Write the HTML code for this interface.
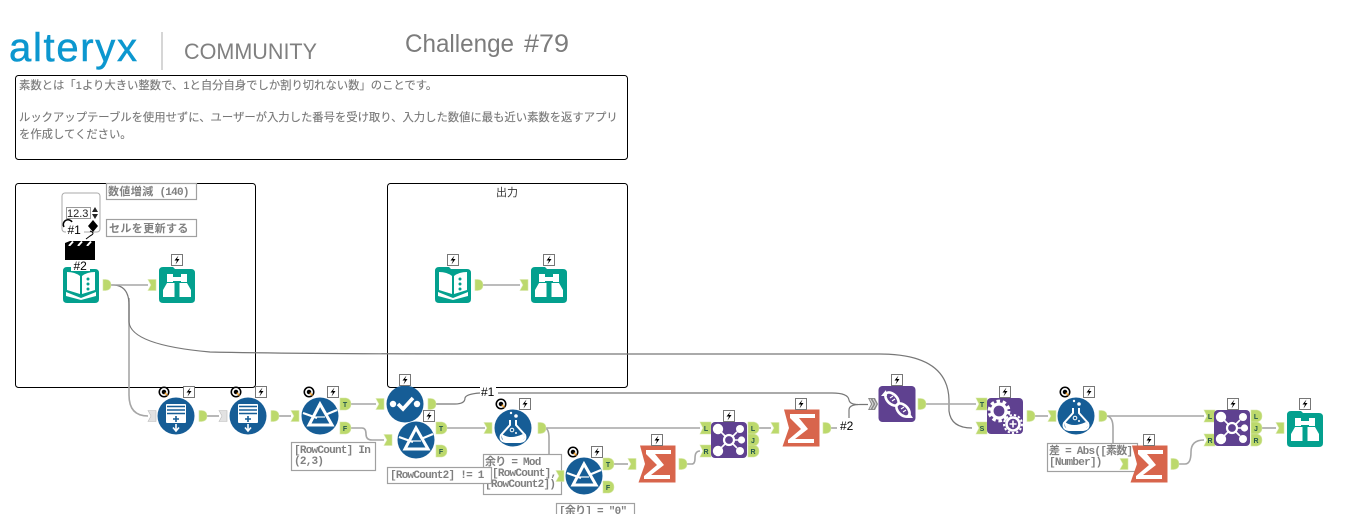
<!DOCTYPE html>
<html lang="ja"><head><meta charset="utf-8"><title>Challenge #79</title>
<style>
html,body{margin:0;padding:0;background:#fff;width:1366px;height:514px;overflow:hidden}
svg{display:block}
.b{fill:none;stroke:#000;stroke-width:1}
.c{fill:none;stroke:#a6a6a6;stroke-width:1.6}
.d{fill:none;stroke:#777;stroke-width:1.2}
.t{font:11.33px "Liberation Sans","Noto Sans CJK JP",sans-serif;fill:#777;stroke:#777;stroke-width:.12}
.l{font:bold 11px "Liberation Mono","Noto Sans CJK JP",monospace;fill:#808080;letter-spacing:-.75px}
.j{letter-spacing:.4px}
.r{fill:#fff;stroke:#a0a0a0;stroke-width:1.2}
.a{font:bold 7px "Liberation Sans",sans-serif;fill:#24584c;text-anchor:middle}
.n{font:12px "Liberation Sans",sans-serif;fill:#000}
</style></head><body>
<svg width="1366" height="514" viewBox="0 0 1366 514" xmlns="http://www.w3.org/2000/svg">
<defs>
<symbol id="i" overflow="visible"><path d="M0-5.500H8V5.500H0L3 0Z" fill="#bcd96c" stroke="#d5e6a5" stroke-width=".6"/></symbol>
<symbol id="ig" overflow="visible"><path d="M0-5.500H8V5.500H0L3 0Z" fill="#e2e2e2" stroke="#bbb" stroke-width=".6"/></symbol>
<symbol id="o" overflow="visible"><path d="M0-5.500H3Q8-5 8 0Q8 5 3 5.500H0Z" fill="#bcd96c" stroke="#d5e6a5" stroke-width=".6"/></symbol>
<symbol id="iw" overflow="visible"><path d="M0-6H11V6H0L3 0Z" fill="#bcd96c" stroke="#d5e6a5" stroke-width=".6"/></symbol>
<symbol id="ow" overflow="visible"><path d="M0-6H6Q11-5 11 0Q11 5 6 6H0Z" fill="#bcd96c" stroke="#d5e6a5" stroke-width=".6"/></symbol>
<symbol id="z" overflow="visible"><rect x="-5.500" y="-5.500" width="11" height="11" fill="#fff" stroke="#777"/><path d="M1.500-4.500L-2.500 .5H0L-1.500 4.500L2.500-1H0Z" fill="#000"/></symbol>
<symbol id="qb" overflow="visible"><circle r="5.500" fill="#000"/><circle r="3.100" fill="none" stroke="#fff" stroke-width="1.700"/><path d="M.8 .8L3.500 3.500" stroke="#f0a030" stroke-width="1.400"/></symbol>
<symbol id="ap" overflow="visible"><circle r="18.500" fill="#165d96"/><rect x="-10" y="-12" width="20" height="19" rx="1" fill="#fff"/><path d="M-9-9.500H9M-9-6H9M-9-2.500H9" stroke="#165d96" stroke-width="1.400"/><path d="M0 0V6M-3 3H3" stroke="#165d96" stroke-width="1.600"/><path d="M0 8V15M-3 11.500L0 15L3 11.500" stroke="#fff" stroke-width="1.600" fill="none"/></symbol>
<symbol id="fl" overflow="visible"><circle r="18.500" fill="#165d96"/><path d="M0-12L-11 9H12Z" fill="none" stroke="#fff" stroke-width="3"/><path d="M-17-3L-3 2M5-1L17-6" stroke="#fff" stroke-width="2.200"/><path d="M-4 1H5" stroke="#fff" stroke-width="1.200"/></symbol>
<symbol id="ck" overflow="visible"><circle r="18.500" fill="#165d96"/><circle cx="-12" cy="0" r="3.200" fill="#fff"/><circle cx="12" cy="0" r="3.200" fill="#fff"/><path d="M-7 0L-2 5L8-6" fill="none" stroke="#fff" stroke-width="3.600"/></symbol>
<symbol id="fx" overflow="visible"><circle r="18.500" fill="#165d96"/><circle cx="-2" cy="-15" r="1.200" fill="#fff"/><circle cx="3" cy="-12" r="1.800" fill="#fff"/><path d="M-3-8V-3L-12 7Q-14 13-7 14H7Q14 13 12 7L3-3V-8" fill="none" stroke="#fff" stroke-width="2"/><path d="M-11 6Q-3 12 10 6L12 9Q10 14 6 14H-6Q-12 13-11 6Z" fill="#fff"/><circle cx="-1" cy="2" r="1.800" fill="none" stroke="#fff"/><circle cx="3" cy="5" r="1" fill="#fff"/></symbol>
<symbol id="su" overflow="visible"><path d="M-17-18.500H18.500V18.500H-18.500L-12 0Z" fill="#d8654c"/><path d="M-11-14H14V-10H-2L7 1L-6 11H13V15H-13V12L0 1L-11-10Z" fill="#fff"/></symbol>
<symbol id="jn" overflow="visible"><rect x="-18" y="-18" width="36" height="36" rx="4" fill="#5f4190"/><g fill="#fff"><circle cx="-11" cy="-11" r="5.200"/><circle cx="11" cy="-11" r="4"/><circle cx="12.500" cy="0" r="3.600"/><circle cx="11" cy="11" r="4"/><circle cx="-11" cy="11" r="5.200"/></g><circle r="5" fill="none" stroke="#fff" stroke-width="2.200"/><path d="M-8-8L-3-3M8-8L3-3M5 0H10M8 8L3 3M-8 8L-3 3" stroke="#fff" stroke-width="1.600"/></symbol>
<symbol id="dn" overflow="visible"><rect x="-18.500" y="-18" width="37" height="36" rx="4" fill="#5f4190"/><g fill="none" stroke="#fff" stroke-width="2.600"><ellipse cx="-5" cy="-5" rx="8" ry="4.800" transform="rotate(45 -5 -5)"/><ellipse cx="6" cy="6" rx="8" ry="4.800" transform="rotate(45 6 6)"/></g><path d="M-7-6L-4-8M-5-3L-2-5M4 5L7 3M6 8L9 6" stroke="#fff" stroke-width="1.200"/><path d="M-11-14L-16-8L-10-8ZM12 8L16 14L9 14Z" fill="#fff"/></symbol>
<symbol id="ge" overflow="visible"><rect x="-18" y="-18" width="36" height="36" rx="4" fill="#5f4190"/><circle cx="-6" cy="-5" r="7" fill="none" stroke="#fff" stroke-width="3.200"/><circle cx="-6" cy="-5" r="9.800" fill="none" stroke="#fff" stroke-width="3.200" stroke-dasharray="3.500 2.700"/><circle cx="8" cy="8" r="6.500" fill="#5f4190" stroke="#fff" stroke-width="2.600"/><circle cx="8" cy="8" r="9" fill="none" stroke="#fff" stroke-width="2" stroke-dasharray="2.300 2"/><path d="M4.500 8H11.500M8 4.500V11.500" stroke="#fff" stroke-width="1.600"/></symbol>
<symbol id="br" overflow="visible"><path d="M-18-14Q-18-18-14-18H-4L-2-16H14Q18-16 18-12V14Q18 18 14 18H-14Q-18 18-18 14Z" fill="#03a08e"/><path d="M-10-11H-4V-3H-10ZM4-11H10V-3H4ZM-4-8H4V-4H-4ZM-10-2H-2.500V12H-14V5ZM10-2H2.500V12H14V5Z" fill="#fff"/></symbol>
<symbol id="bk" overflow="visible"><path d="M-18-14Q-18-18-14-18H-4L-2-16H14Q18-16 18-12V14Q18 18 14 18H-14Q-18 18-18 14Z" fill="#03a08e"/><path d="M-14-13Q-6-13-1-9V9L-14 5Z" fill="#fff"/><path d="M14-13Q6-13 1-9V9L14 5Z" fill="#fff"/><path d="M-15 7L0 13L15 7V11L0 15L-15 11Z" fill="#fff"/><g fill="#03a08e"><circle cx="7" cy="-6" r="1.500"/><circle cx="7" cy="-1" r="1.500"/><circle cx="7" cy="4" r="1.500"/></g></symbol>
</defs>

<!-- header -->
<text x="9" y="61" font-family="Liberation Sans" font-size="40" fill="#0c97cf" stroke="#0c97cf" stroke-width=".5" textLength="128">alteryx</text>
<rect x="161" y="32" width="2" height="38" fill="#d6d6d6"/>
<text x="184" y="59" font-family="Liberation Sans" font-size="22" fill="#808080" textLength="133" lengthAdjust="spacingAndGlyphs">COMMUNITY</text>
<text x="405" y="52" font-family="Liberation Sans" font-size="25" fill="#7c7c7c" textLength="109" lengthAdjust="spacingAndGlyphs">Challenge</text>
<text x="524" y="52" font-family="Liberation Sans" font-size="25" fill="#7c7c7c" textLength="45" lengthAdjust="spacingAndGlyphs">#79</text>

<!-- comment boxes -->
<rect class="b" x="15.500" y="75.500" width="612" height="84" rx="3"/>
<text class="t" x="19" y="89">素数とは「1より大きい整数で、1と自分自身でしか割り切れない数」のことです。</text>
<text class="t" x="19" y="121">ルックアップテーブルを使用せずに、ユーザーが入力した番号を受け取り、入力した数値に最も近い素数を返すアプリ</text>
<text class="t" x="19" y="138">を作成してください。</text>
<rect class="b" x="15.500" y="183.500" width="240" height="204" rx="3"/>
<rect class="b" x="387.500" y="183.500" width="240" height="204" rx="3"/>
<text x="507" y="196" font-family="Liberation Sans,Noto Sans CJK JP,sans-serif" font-size="11" fill="#333" text-anchor="middle">出力</text>

<!-- connectors -->
<path class="c" d="M129 298V395Q129 416 148 416"/>
<path class="d" d="M110 285H114Q129 286 129 305V322Q131 345 210 352Q300 354 500 354H880Q948 354 949 400V411Q951 428 972 428"/>
<path class="c" d="M110 285H148"/>
<path class="c" d="M482 285H520"/>
<path class="c" d="M206 416H219"/>
<path class="c" d="M278 416H291"/>
<path class="c" d="M351 404H376"/>
<path class="c" d="M351 428H362Q366 428 366 434Q366 440 372 440H384"/>
<path class="d" d="M434 404H455Q465 404 465 398Q466 394 480 393"/>
<path class="d" d="M498 393H832Q848 393 849 400Q850 405 860 404.500H868"/>
<path class="d" d="M849 418V410Q849 405 858 404.500"/>
<path class="c" d="M447 428H485"/>
<path class="c" d="M545 428H700"/>
<path class="c" d="M545 428Q549 429 549 438V465Q549 476 557 476"/>
<path class="c" d="M614 464H628"/>
<path class="c" d="M687 464H692Q695 464 695 458Q695 451 700 451"/>
<path class="c" d="M759 428H771"/>
<path class="c" d="M831 428H837"/>
<path class="c" d="M926 404H976"/>
<path class="c" d="M1035 416H1048"/>
<path class="c" d="M1107 416H1204"/>
<path class="c" d="M1107 416Q1113 417 1113 428V455Q1113 464 1120 464"/>
<path class="c" d="M1179 464H1185Q1191 464 1191 452Q1191 440 1204 440"/>
<path class="c" d="M1262 428H1276"/>

<!-- labels under tools -->
<rect class="r" x="106.500" y="183.500" width="90" height="16"/>
<text class="l" x="108" y="195"><tspan class="j">数値増減</tspan> (140)</text>
<rect class="r" x="106.500" y="219.500" width="90" height="17"/>
<text class="l j" x="109" y="232">セルを更新する</text>
<rect class="r" x="291.500" y="442.500" width="84" height="28"/>
<text class="l" x="294" y="453">[RowCount] In</text>
<text class="l" x="294" y="464">(2,3)</text>
<rect class="r" x="483.500" y="454.500" width="78" height="40"/>
<text class="l" x="485" y="465">余り = Mod</text>
<text class="l" x="492" y="476">[RowCount],</text>
<text class="l" x="485" y="487">[RowCount2])</text>
<rect class="r" x="387.500" y="467.500" width="104" height="16"/>
<text class="l" x="390" y="478">[RowCount2] != 1</text>
<rect class="r" x="556.500" y="503.500" width="78" height="20"/>
<text class="l" x="559" y="514">[余り] = "0"</text>
<rect class="r" x="1047.500" y="443.500" width="90" height="28"/>
<text class="l" x="1049" y="454">差 = Abs([素数]</text>
<text class="l" x="1049" y="465">[Number])</text>

<!-- interface tools -->
<rect x="62" y="193" width="38" height="39" rx="3" fill="#fff" stroke="#aaa"/>
<rect x="66.500" y="207.500" width="24" height="11" fill="#fff" stroke="#999"/>
<text x="67" y="217" font-family="Liberation Sans" font-size="11" fill="#222">12.3</text>
<path d="M92 212L95 207L98 212ZM92 214H98L95 219Z" fill="#222"/>
<path d="M93 220L98 226L93 232L88 226Z" fill="#000"/>
<path d="M64 227A4 4 0 0 1 72 222" fill="none" stroke="#000" stroke-width="1.500"/>
<path d="M90 231Q96 233 90 236L86 239" fill="none" stroke="#000" stroke-width="1"/>
<rect x="66" y="224" width="18" height="13" fill="#fff"/>
<text class="n" x="67.500" y="234">#1</text>
<path d="M65 243L70 241H95V247H65Z" fill="#000"/>
<path d="M69 246L73 241.500M78 246L82 241.500M87 246L91 241.500" stroke="#fff" stroke-width="2"/>
<rect x="65" y="246" width="30" height="14" fill="#000"/>

<!-- anchors -->
<use href="#o" x="103" y="285"/><use href="#i" x="148" y="285"/>
<use href="#o" x="475" y="285"/><use href="#i" x="520" y="285"/>
<use href="#ig" x="148" y="416"/><use href="#o" x="199" y="416"/>
<use href="#ig" x="219" y="416"/><use href="#o" x="271" y="416"/>
<use href="#i" x="291" y="416"/>
<use href="#ow" x="340" y="404"/><text class="a" x="345" y="407">T</text>
<use href="#ow" x="340" y="428"/><text class="a" x="345" y="431">F</text>
<use href="#i" x="376" y="404"/><use href="#o" x="428" y="404"/>
<use href="#i" x="384" y="440"/>
<use href="#ow" x="436" y="428"/><text class="a" x="441" y="431">T</text>
<use href="#ow" x="436" y="451"/><text class="a" x="441" y="454">F</text>
<use href="#i" x="484" y="428"/><use href="#o" x="538" y="428"/>
<use href="#i" x="556" y="476"/>
<use href="#ow" x="603" y="464"/><text class="a" x="608" y="467">T</text>
<use href="#ow" x="603" y="487"/><text class="a" x="608" y="490">F</text>
<use href="#i" x="628" y="464"/><use href="#o" x="679" y="464"/>
<use href="#iw" x="700" y="428"/><text class="a" x="706" y="431">L</text>
<use href="#iw" x="700" y="451"/><text class="a" x="706" y="454">R</text>
<use href="#ow" x="748" y="428"/><text class="a" x="753" y="431">L</text>
<use href="#ow" x="748" y="440"/><text class="a" x="753" y="443">J</text>
<use href="#ow" x="748" y="451"/><text class="a" x="753" y="454">R</text>
<use href="#i" x="771" y="428"/><use href="#o" x="823" y="428"/>
<path d="M868 398H875L878 404L875 410H868L871 404Z" fill="#8a8a8a"/><path d="M870 399L873 404L870 409M873 399L876 404L873 409" fill="none" stroke="#ddd"/>
<use href="#o" x="918" y="404"/>
<use href="#iw" x="976" y="404"/><text class="a" x="982" y="407">T</text>
<use href="#iw" x="976" y="428"/><text class="a" x="982" y="431">S</text>
<use href="#o" x="1027" y="416"/>
<use href="#i" x="1048" y="416"/><use href="#o" x="1099" y="416"/>
<use href="#i" x="1120" y="464"/><use href="#o" x="1171" y="464"/>
<use href="#iw" x="1204" y="416"/><text class="a" x="1210" y="419">L</text>
<use href="#iw" x="1204" y="440"/><text class="a" x="1210" y="443">R</text>
<use href="#ow" x="1251" y="416"/><text class="a" x="1256" y="419">L</text>
<use href="#ow" x="1251" y="428"/><text class="a" x="1256" y="431">J</text>
<use href="#ow" x="1251" y="440"/><text class="a" x="1256" y="443">R</text>
<use href="#i" x="1276" y="428"/>

<!-- tools -->
<use href="#bk" x="81" y="285"/><use href="#br" x="177" y="285"/>
<use href="#bk" x="453" y="285"/><use href="#br" x="549" y="285"/>
<use href="#ap" x="176" y="416"/><use href="#ap" x="248" y="416"/>
<use href="#fl" x="320" y="416"/>
<use href="#ck" x="405" y="404"/>
<use href="#fl" x="416" y="440"/>
<use href="#fx" x="513" y="428"/>
<use href="#fl" x="584" y="476"/>
<use href="#su" x="657" y="464"/>
<use href="#jn" x="729" y="440"/>
<use href="#su" x="801" y="428"/>
<use href="#dn" x="897" y="404"/>
<use href="#ge" x="1005" y="416"/>
<use href="#fx" x="1076" y="416"/>
<use href="#su" x="1149" y="464"/>
<use href="#jn" x="1232" y="428"/>
<use href="#br" x="1305" y="429"/>

<!-- #1 / #2 connector labels -->
<rect x="71" y="260" width="19" height="11" fill="#fff"/>
<text class="n" x="73.500" y="270">#2</text>
<rect x="480" y="386" width="16" height="13" fill="#fff"/>
<text class="n" x="481" y="396">#1</text>
<rect x="839" y="420" width="18" height="13" fill="#fff"/>
<text class="n" x="840" y="430">#2</text>

<!-- badges -->
<use href="#z" x="177" y="260"/><use href="#z" x="549" y="260"/><use href="#z" x="453" y="260"/>
<use href="#qb" x="164" y="392"/><use href="#z" x="189" y="392"/>
<use href="#qb" x="236" y="392"/><use href="#z" x="261" y="392"/>
<use href="#qb" x="309" y="392"/><use href="#z" x="333" y="392"/>
<use href="#z" x="405" y="380"/><use href="#z" x="429" y="416"/>
<use href="#qb" x="501" y="404"/><use href="#z" x="525" y="404"/>
<use href="#qb" x="573" y="452"/><use href="#z" x="597" y="452"/>
<use href="#z" x="657" y="440"/><use href="#z" x="729" y="416"/>
<use href="#z" x="801" y="404"/><use href="#z" x="897" y="380"/>
<use href="#z" x="1005" y="392"/>
<use href="#qb" x="1065" y="392"/><use href="#z" x="1089" y="392"/>
<use href="#z" x="1149" y="440"/><use href="#z" x="1233" y="404"/>
<use href="#z" x="1305" y="404"/>
</svg>
</body></html>
